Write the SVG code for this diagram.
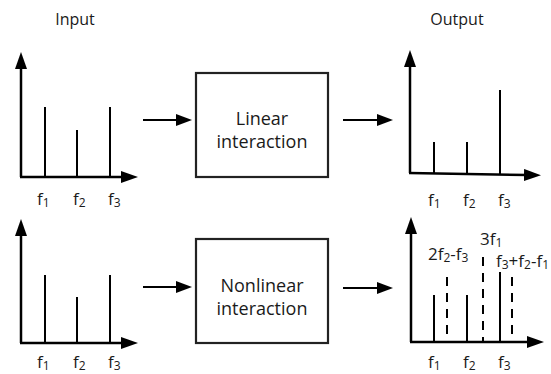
<svg xmlns="http://www.w3.org/2000/svg" width="551" height="374" viewBox="0 0 551 374">
<style>
text{font-family:"Open Sans","Liberation Sans",sans-serif;fill:#1a1a1a}
.t{font-size:16px;text-anchor:middle}
.b{font-size:18px;text-anchor:middle}
.f{font-size:17px}
.s{font-size:12px}
.ax{stroke:#000;stroke-width:2.5;fill:none;marker-end:url(#ah)}
.bar{stroke:#000;stroke-width:2;fill:none}
.dash{stroke:#000;stroke-width:2;fill:none;stroke-dasharray:9 7}
.box{fill:#fff;stroke:#222;stroke-width:2.2}
.ar{stroke:#000;stroke-width:2;fill:none;marker-end:url(#ah2)}
</style>
<defs>
<marker id="ah" markerUnits="userSpaceOnUse" markerWidth="20" markerHeight="14" refX="3" refY="6" orient="auto" viewBox="0 0 20 14">
<path d="M0,0 L17,6 L0,12 z" fill="#000"/>
</marker>
<marker id="ah2" markerUnits="userSpaceOnUse" markerWidth="20" markerHeight="14" refX="3" refY="6" orient="auto" viewBox="0 0 20 14">
<path d="M0,0 L16,6 L0,12 z" fill="#000"/>
</marker>
</defs>
<text class="t" x="75" y="25">Input</text>
<text class="t" x="457" y="25">Output</text>
<g id="input-linear">
<line class="ax" x1="21" y1="177" x2="21" y2="66"/>
<line class="ax" x1="20" y1="177" x2="124" y2="177"/>
<line class="bar" x1="45" y1="107" x2="45" y2="177"/>
<line class="bar" x1="77" y1="130" x2="77" y2="177"/>
<line class="bar" x1="110" y1="107" x2="110" y2="177"/>
<text class="f" x="37" y="205">f<tspan class="s" dy="2">1</tspan></text>
<text class="f" x="73" y="205">f<tspan class="s" dy="2">2</tspan></text>
<text class="f" x="108" y="205">f<tspan class="s" dy="2">3</tspan></text>
</g>
<g id="linear-box">
<rect class="box" x="196" y="73" width="132" height="104"/>
<text class="b" x="262" y="125">Linear</text>
<text class="b" x="262" y="148">interaction</text>
</g>
<g id="output-linear">
<line class="ax" x1="410" y1="173" x2="410" y2="64"/>
<line class="ax" x1="409" y1="173" x2="527" y2="175"/>
<line class="bar" x1="434" y1="142" x2="434" y2="173.4"/>
<line class="bar" x1="467" y1="142" x2="467" y2="174"/>
<line class="bar" x1="500" y1="90" x2="500" y2="174.5"/>
<text class="f" x="428" y="206">f<tspan class="s" dy="2">1</tspan></text>
<text class="f" x="463" y="206">f<tspan class="s" dy="2">2</tspan></text>
<text class="f" x="498" y="206">f<tspan class="s" dy="2">3</tspan></text>
</g>
<g id="input-nonlinear">
<line class="ax" x1="21" y1="343" x2="21" y2="233"/>
<line class="ax" x1="20" y1="343" x2="124" y2="343"/>
<line class="bar" x1="45" y1="275" x2="45" y2="343"/>
<line class="bar" x1="77" y1="297" x2="77" y2="343"/>
<line class="bar" x1="110" y1="275" x2="110" y2="343"/>
<text class="f" x="37" y="368">f<tspan class="s" dy="1.5">1</tspan></text>
<text class="f" x="73" y="368">f<tspan class="s" dy="1.5">2</tspan></text>
<text class="f" x="108" y="368">f<tspan class="s" dy="1.5">3</tspan></text>
</g>
<g id="nonlinear-box">
<rect class="box" x="196" y="239" width="132" height="104"/>
<text class="b" x="262" y="292">Nonlinear</text>
<text class="b" x="262" y="315">interaction</text>
</g>
<g id="output-nonlinear">
<line class="ax" x1="411" y1="342" x2="411" y2="231"/>
<line class="ax" x1="410" y1="342" x2="530" y2="342"/>
<line class="bar" x1="434" y1="295" x2="434" y2="342"/>
<line class="bar" x1="467" y1="295" x2="467" y2="342"/>
<line class="bar" x1="500" y1="272" x2="500" y2="342"/>
<line class="dash" x1="447" y1="277" x2="447" y2="342"/>
<line class="dash" x1="483" y1="257" x2="483" y2="342"/>
<line class="dash" x1="512" y1="277" x2="512" y2="342"/>
<text class="f" x="428" y="260">2f<tspan class="s" dy="2">2</tspan><tspan dy="-2">-f</tspan><tspan class="s" dy="2">3</tspan></text>
<text class="f" x="480" y="245">3f<tspan class="s" dy="2">1</tspan></text>
<text class="f" x="496" y="267">f<tspan class="s" dy="2">3</tspan><tspan dy="-2">+f</tspan><tspan class="s" dy="2">2</tspan><tspan dy="-2">-f</tspan><tspan class="s" dy="2">1</tspan></text>
<text class="f" x="428" y="368">f<tspan class="s" dy="1.5">1</tspan></text>
<text class="f" x="463" y="368">f<tspan class="s" dy="1.5">2</tspan></text>
<text class="f" x="498" y="368">f<tspan class="s" dy="1.5">3</tspan></text>
</g>
<g id="connectors">
<line class="ar" x1="143" y1="120" x2="179" y2="120"/>
<line class="ar" x1="343" y1="120" x2="380" y2="120"/>
<line class="ar" x1="143" y1="287" x2="179" y2="287"/>
<line class="ar" x1="343" y1="288" x2="380" y2="288"/>
</g>
</svg>
